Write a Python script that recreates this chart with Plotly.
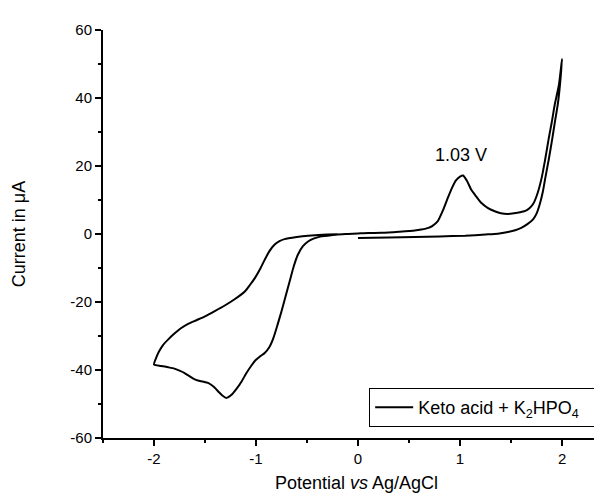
import plotly.graph_objects as go

# Forward scan 0 V -> +2 V
fwd_x = [0.0, 0.3, 0.556, 0.8, 1.05, 1.25, 1.37, 1.47, 1.54, 1.6, 1.66, 1.716, 1.75, 1.78, 1.81, 1.836, 1.87, 1.905, 1.93, 1.96, 1.98, 2.0]
fwd_y = [-1.2, -1.05, -0.9, -0.72, -0.5, -0.15, 0.1, 0.6, 1.1, 1.8, 2.9, 4.3, 6.0, 8.6, 12.2, 16.5, 22.0, 28.2, 33.0, 38.5, 44.0, 51.5]

# Reverse scan +2 V -> 0 V (with the 1.03 V peak)
rev_x = [2.0, 1.97, 1.928, 1.90, 1.87, 1.835, 1.80, 1.76, 1.716, 1.68, 1.64, 1.6, 1.53, 1.47, 1.40, 1.34, 1.27, 1.21, 1.16, 1.11, 1.07, 1.03, 1.0, 0.96, 0.92, 0.88, 0.83, 0.78, 0.73, 0.69, 0.62, 0.556, 0.4, 0.23, 0.1, 0.0, -0.1, -0.2]
rev_y = [51.5, 44.0, 38.0, 33.0, 28.2, 22.0, 16.5, 12.0, 8.8, 7.6, 6.8, 6.5, 6.1, 5.9, 6.1, 6.7, 7.7, 9.1, 11.0, 13.0, 15.5, 17.2, 16.9, 15.8, 13.5, 10.6, 6.8, 3.7, 2.4, 1.8, 1.3, 1.0, 0.65, 0.35, 0.3, 0.15, 0.0, -0.15]

# Cathodic sweep 0 V -> -2 V
cat_x = [-0.25, -0.36, -0.43, -0.49, -0.54, -0.59, -0.63, -0.67, -0.71, -0.75, -0.79, -0.83, -0.87, -0.915, -0.96, -1.0, -1.05, -1.10, -1.14, -1.19, -1.24, -1.29, -1.33, -1.37, -1.42, -1.47, -1.52, -1.57, -1.61, -1.65, -1.70, -1.75, -1.80, -1.86, -1.93, -2.0]
cat_y = [-0.3, -0.7, -1.3, -2.2, -3.6, -6.1, -9.5, -13.9, -18.3, -22.7, -26.8, -30.6, -33.3, -35.0, -36.0, -37.0, -38.9, -41.2, -43.3, -45.5, -47.3, -48.2, -47.5, -46.3, -44.8, -43.8, -43.4, -43.1, -42.6, -41.9, -40.9, -40.2, -39.6, -39.2, -38.8, -38.4]

# Return sweep -2 V -> 0 V
ret_x = [-2.0, -1.98, -1.95, -1.91, -1.86, -1.80, -1.74, -1.67, -1.58, -1.50, -1.40, -1.31, -1.21, -1.11, -1.06, -1.01, -0.96, -0.915, -0.87, -0.817, -0.77, -0.72, -0.6, -0.49, -0.35, -0.2]
ret_y = [-38.4, -36.5, -34.5, -32.6, -31.0, -29.3, -27.8, -26.5, -25.3, -24.2, -22.6, -21.1, -19.2, -16.9, -15.0, -12.9, -10.3, -7.6, -5.1, -3.1, -2.1, -1.5, -0.9, -0.5, -0.2, -0.1]

x_all = fwd_x + rev_x[1:] + cat_x + ret_x[1:]
y_all = fwd_y + rev_y[1:] + cat_y + ret_y[1:]

x_ticks = [-2, -1, 0, 1, 2]
x_tick_text = ["-2", "-1", "0", "1", "2"]
y_ticks = [-60, -40, -20, 0, 20, 40, 60]
y_tick_text = ["-60", "-40", "-20", "0", "20", "40", "60"]
peak_label = "1.03 V"
peak_pos = (1.005, 23.3)
series_name = "Keto acid + K<sub>2</sub>HPO<sub>4</sub>"

FONT = "Liberation Sans, Arial"

fig = go.Figure()
fig.add_trace(go.Scatter(
    x=x_all, y=y_all, mode="lines",
    line=dict(color="black", width=2, shape="spline", smoothing=0.6),
    name=series_name + "&nbsp;&nbsp;",
))

fig.add_annotation(x=peak_pos[0], y=peak_pos[1], text=peak_label, showarrow=False,
                   font=dict(size=18, color="black", family=FONT))

axis_common = dict(
    showgrid=False, zeroline=False, showline=True, linecolor="black", linewidth=2,
    ticks="outside", ticklen=6, tickwidth=1.5, tickcolor="black",
    tickfont=dict(size=15, color="black", family=FONT),
    mirror=False,
)

fig.update_layout(
    width=602, height=494,
    margin=dict(l=95, r=0, t=22, b=64),
    paper_bgcolor="white", plot_bgcolor="white",
    font=dict(family=FONT, color="black"),
    showlegend=True,
    legend=dict(x=0.525, y=0.027, xanchor="left", yanchor="bottom",
                bordercolor="black", borderwidth=1, bgcolor="white",
                itemwidth=38,
                font=dict(size=18, color="black", family=FONT)),
    xaxis=dict(range=[-2.5, 2.47], tickvals=x_ticks, ticktext=x_tick_text,
               minor=dict(dtick=0.5, tick0=0, ticks="outside", ticklen=3, tickwidth=1.5, tickcolor="black"),
               title=dict(text="Potential <i>vs</i> Ag/AgCl", font=dict(size=18, family=FONT), standoff=10),
               **axis_common),
    yaxis=dict(range=[-60, 60], tickvals=y_ticks, ticktext=y_tick_text,
               minor=dict(dtick=10, tick0=0, ticks="outside", ticklen=3, tickwidth=1.5, tickcolor="black"),
               title=dict(text="Current in μA", font=dict(size=18, family=FONT), standoff=40),
               **axis_common),
)

fig.write_html("out.html")
